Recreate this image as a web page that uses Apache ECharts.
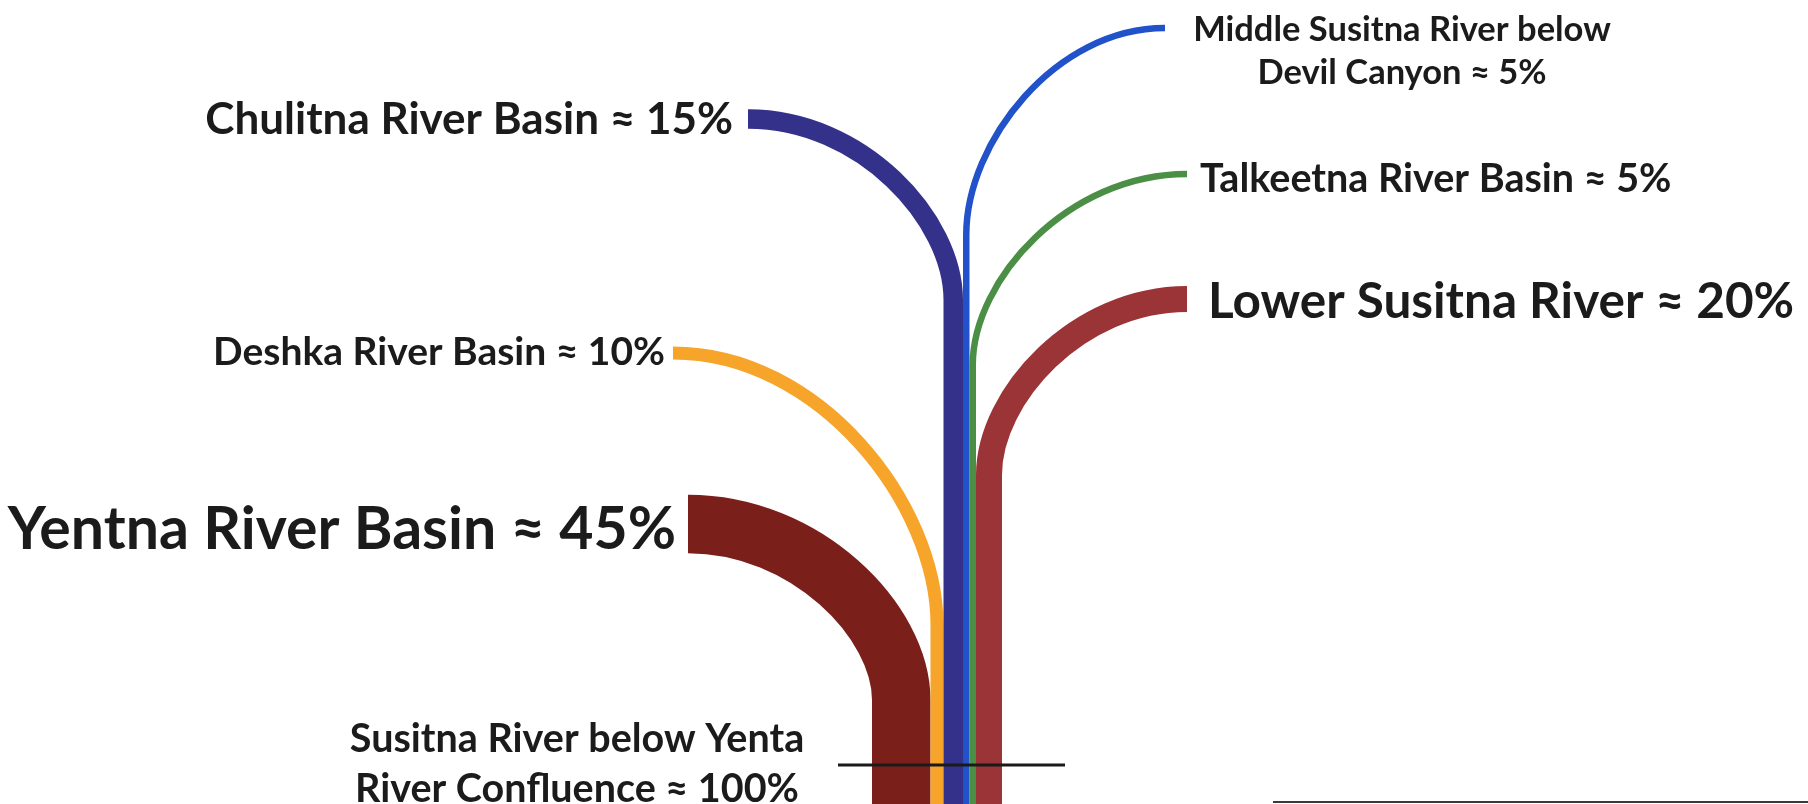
<!DOCTYPE html>
<html><head><meta charset="utf-8">
<script src="https://cdn.jsdelivr.net/npm/echarts@6/dist/echarts.min.js"></script>
<style>html,body{margin:0;padding:0;background:#fff}#c{width:1808px;height:804px}</style>
</head><body><div id="c"></div>
<script>
// ---- data ----
const branchNames = ['Yentna River Basin', 'Deshka River Basin', 'Chulitna River Basin',
  'Middle Susitna River below Devil Canyon', 'Talkeetna River Basin', 'Lower Susitna River'];
const branchShares = [45, 10, 15, 5, 5, 20];
const branchLabels = ['Yentna River Basin ≈ 45%', 'Deshka River Basin ≈ 10%', 'Chulitna River Basin ≈ 15%',
  'Middle Susitna River below\nDevil Canyon ≈ 5%', 'Talkeetna River Basin ≈ 5%', 'Lower Susitna River ≈ 20%'];
const confluenceLabel = 'Susitna River below Yenta\nRiver Confluence ≈ 100%';

// ---- layout (plot units = pixels of the 1808x804 frame) ----
const W = 1808, H = 804;
const trunkLeft = 872, unit = 1.3, trunkBottom = 804, K = 0.5523;
const branchLayout = [
  {sx: 688, sy: 524, jy: 700, lx: 676, ly: 530, align: 'right', fs: 59},
  {sx: 673, sy: 353, jy: 625, lx: 665, ly: 352, align: 'right', fs: 39},
  {sx: 748, sy: 119, jy: 300, lx: 733, ly: 120, align: 'right', fs: 44},
  {sx: 1165, sy: 28, jy: 235, lx: 1402, ly: 51, align: 'center', fs: 34.5, lh: 43},
  {sx: 1187, sy: 174, jy: 365, lx: 1200, ly: 179, align: 'left', fs: 39.5},
  {sx: 1187, sy: 299, jy: 475, lx: 1208, ly: 302, align: 'left', fs: 49.5}
];
const branchColors = ['#7a1f1a', '#f7a42a', '#33318a', '#2152c9', '#4b8f46', '#9b3436'];
const drawOrder = [0, 1, 5, 4, 3, 2];
const confluenceLayout = {x: 577, y: 764, fs: 39.5, lh: 50};
const ruleLines = [
  {pts: [[838, 765], [1065, 765]], width: 3, color: '#1a1a1a'},
  {pts: [[1273, 802], [1808, 802]], width: 2, color: '#3a3a3a'}
];
const textColor = '#1b1b1b';
const font = 'Lato';

const cumBefore = branchShares.map((s, i) => branchShares.slice(0, i).reduce((a, b) => a + b, 0));

function renderBranch(params, api) {
  const i = api.value(0);
  const share = api.value(1);
  const L = branchLayout[i];
  const tx = trunkLeft + (cumBefore[i] + share / 2) * unit;
  const p0 = api.coord([L.sx, L.sy]);
  const c1 = api.coord([L.sx + K * (tx - L.sx), L.sy]);
  const c2 = api.coord([tx, L.sy + K * (L.jy - L.sy)]);
  const p3 = api.coord([tx, L.jy]);
  const p4 = api.coord([tx, trunkBottom]);
  const lw = api.size([share * unit, 0])[0];
  const pathData = 'M' + p0[0] + ' ' + p0[1] + ' C' + c1[0] + ' ' + c1[1] + ' ' + c2[0] + ' ' + c2[1] + ' ' + p3[0] + ' ' + p3[1] + ' L' + p4[0] + ' ' + p4[1];
  const lp = api.coord([L.lx, L.ly]);
  return {
    type: 'group',
    children: [
      {type: 'path', shape: {pathData: pathData},
        style: {fill: 'none', stroke: branchColors[i], lineWidth: lw, lineCap: 'butt', lineJoin: 'round'}},
      {type: 'text', x: lp[0], y: lp[1],
        style: {text: branchLabels[i], fill: textColor, fontSize: L.fs, fontWeight: 'bold', fontFamily: font,
          align: L.align, verticalAlign: 'middle', lineHeight: L.lh || Math.round(L.fs * 1.2)}}
    ]
  };
}

function renderConfluence(params, api) {
  const p = api.coord([api.value(0), api.value(1)]);
  return {type: 'text', x: p[0], y: p[1],
    style: {text: confluenceLabel, fill: textColor, fontSize: confluenceLayout.fs, fontWeight: 'bold', fontFamily: font,
      align: 'center', verticalAlign: 'middle', lineHeight: confluenceLayout.lh}};
}

const chart = echarts.init(document.getElementById('c'), null, {renderer: 'canvas'});
const series = [
  {type: 'custom', name: 'branches', renderItem: renderBranch, silent: true,
    data: drawOrder.map(i => ({name: branchNames[i], value: [i, branchShares[i]]}))},
  {type: 'custom', name: 'confluence', renderItem: renderConfluence, silent: true,
    data: [[confluenceLayout.x, confluenceLayout.y]]}
];
ruleLines.forEach(r => series.push({type: 'line', data: r.pts, symbol: 'none', silent: true,
  lineStyle: {color: r.color, width: r.width}, z: 5}));

chart.setOption({
  animation: false,
  backgroundColor: '#ffffff',
  grid: {left: 0, right: 0, top: 0, bottom: 0},
  xAxis: {type: 'value', min: 0, max: W, show: false},
  yAxis: {type: 'value', min: 0, max: H, inverse: true, show: false},
  series: series
});
</script></body></html>
